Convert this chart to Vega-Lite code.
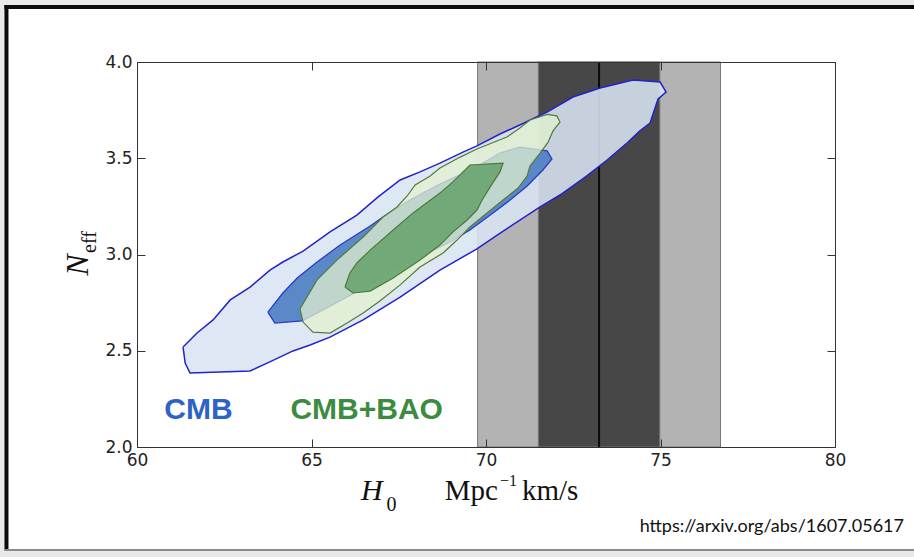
{
  "$schema": "https://vega.github.io/schema/vega-lite/v6.json",
  "width": 698,
  "height": 385,
  "autosize": {"type": "none"},
  "padding": {"left": 137, "top": 62, "right": 79, "bottom": 110},
  "background": "#e8e8e8",
  "config": {
    "view": {"stroke": null},
    "axis": {
      "grid": false,
      "domainColor": "#333333",
      "domainWidth": 1,
      "tickColor": "#333333",
      "tickSize": -8,
      "tickWidth": 1,
      "labelFont": "DejaVu Sans",
      "labelFontSize": 17,
      "labelColor": "#222222",
      "labelFlush": false,
      "labelOverlap": false,
      "labelBound": false,
      "title": null
    }
  },
  "datasets": {
    "bands": [
      {"level": "2 sigma", "lo": 69.76, "hi": 76.72},
      {"level": "1 sigma", "lo": 71.50, "hi": 74.98}
    ],
    "local": [{"H0": 73.24}],
    "cmb95": [
      {"H0": 61.32, "Neff": 2.519}, {"H0": 61.72, "Neff": 2.592}, {"H0": 62.18, "Neff": 2.660},
      {"H0": 62.67, "Neff": 2.764}, {"H0": 63.24, "Neff": 2.831}, {"H0": 63.81, "Neff": 2.919},
      {"H0": 64.18, "Neff": 2.961}, {"H0": 64.76, "Neff": 3.018}, {"H0": 65.53, "Neff": 3.117},
      {"H0": 66.30, "Neff": 3.205}, {"H0": 66.91, "Neff": 3.299}, {"H0": 67.54, "Neff": 3.387},
      {"H0": 68.11, "Neff": 3.429}, {"H0": 68.68, "Neff": 3.475}, {"H0": 69.34, "Neff": 3.532},
      {"H0": 69.74, "Neff": 3.564}, {"H0": 70.40, "Neff": 3.626}, {"H0": 70.97, "Neff": 3.673},
      {"H0": 71.75, "Neff": 3.740}, {"H0": 72.49, "Neff": 3.818}, {"H0": 73.27, "Neff": 3.865},
      {"H0": 74.21, "Neff": 3.906}, {"H0": 74.99, "Neff": 3.896}, {"H0": 75.16, "Neff": 3.844},
      {"H0": 74.93, "Neff": 3.808}, {"H0": 74.70, "Neff": 3.683}, {"H0": 74.41, "Neff": 3.642},
      {"H0": 74.04, "Neff": 3.579}, {"H0": 73.47, "Neff": 3.491}, {"H0": 72.89, "Neff": 3.408},
      {"H0": 72.12, "Neff": 3.309}, {"H0": 71.55, "Neff": 3.247}, {"H0": 70.97, "Neff": 3.179},
      {"H0": 70.32, "Neff": 3.101}, {"H0": 69.74, "Neff": 3.029}, {"H0": 68.68, "Neff": 2.919},
      {"H0": 67.54, "Neff": 2.779}, {"H0": 66.48, "Neff": 2.660}, {"H0": 65.53, "Neff": 2.571},
      {"H0": 64.96, "Neff": 2.530}, {"H0": 64.47, "Neff": 2.499}, {"H0": 63.73, "Neff": 2.436},
      {"H0": 63.24, "Neff": 2.395}, {"H0": 61.52, "Neff": 2.384}, {"H0": 61.38, "Neff": 2.436},
      {"H0": 61.32, "Neff": 2.519}
    ],
    "cmb68": [
      {"H0": 63.75, "Neff": 2.701}, {"H0": 64.18, "Neff": 2.800}, {"H0": 64.59, "Neff": 2.878},
      {"H0": 65.16, "Neff": 2.961}, {"H0": 65.82, "Neff": 3.049}, {"H0": 66.68, "Neff": 3.148},
      {"H0": 67.05, "Neff": 3.195}, {"H0": 67.82, "Neff": 3.283}, {"H0": 68.68, "Neff": 3.366},
      {"H0": 69.05, "Neff": 3.397}, {"H0": 69.74, "Neff": 3.455}, {"H0": 70.40, "Neff": 3.527},
      {"H0": 70.97, "Neff": 3.558}, {"H0": 71.75, "Neff": 3.538}, {"H0": 71.89, "Neff": 3.496},
      {"H0": 71.63, "Neff": 3.439}, {"H0": 71.18, "Neff": 3.356}, {"H0": 70.69, "Neff": 3.283},
      {"H0": 70.20, "Neff": 3.216}, {"H0": 69.54, "Neff": 3.127}, {"H0": 68.97, "Neff": 3.065},
      {"H0": 68.11, "Neff": 2.987}, {"H0": 67.54, "Neff": 2.935}, {"H0": 66.39, "Neff": 2.816},
      {"H0": 65.53, "Neff": 2.732}, {"H0": 64.73, "Neff": 2.655}, {"H0": 63.95, "Neff": 2.644},
      {"H0": 63.75, "Neff": 2.701}
    ],
    "bao95": [
      {"H0": 64.67, "Neff": 2.717}, {"H0": 65.16, "Neff": 2.868}, {"H0": 65.73, "Neff": 2.971},
      {"H0": 66.48, "Neff": 3.091}, {"H0": 67.05, "Neff": 3.195}, {"H0": 67.45, "Neff": 3.247},
      {"H0": 67.74, "Neff": 3.304}, {"H0": 67.97, "Neff": 3.361}, {"H0": 68.40, "Neff": 3.408},
      {"H0": 68.68, "Neff": 3.449}, {"H0": 69.26, "Neff": 3.506}, {"H0": 69.74, "Neff": 3.548},
      {"H0": 70.60, "Neff": 3.610}, {"H0": 70.97, "Neff": 3.657}, {"H0": 71.26, "Neff": 3.699},
      {"H0": 71.75, "Neff": 3.728}, {"H0": 72.03, "Neff": 3.720}, {"H0": 72.12, "Neff": 3.688},
      {"H0": 71.92, "Neff": 3.642}, {"H0": 71.78, "Neff": 3.584}, {"H0": 71.55, "Neff": 3.527},
      {"H0": 71.26, "Neff": 3.460}, {"H0": 71.18, "Neff": 3.408}, {"H0": 70.92, "Neff": 3.345},
      {"H0": 70.49, "Neff": 3.283}, {"H0": 70.03, "Neff": 3.216}, {"H0": 69.54, "Neff": 3.143},
      {"H0": 69.17, "Neff": 3.075}, {"H0": 68.77, "Neff": 3.008}, {"H0": 68.11, "Neff": 2.935},
      {"H0": 67.54, "Neff": 2.842}, {"H0": 66.96, "Neff": 2.758}, {"H0": 66.48, "Neff": 2.696},
      {"H0": 66.02, "Neff": 2.644}, {"H0": 65.53, "Neff": 2.592}, {"H0": 65.04, "Neff": 2.597},
      {"H0": 64.76, "Neff": 2.649}, {"H0": 64.67, "Neff": 2.717}
    ],
    "bao68": [
      {"H0": 65.96, "Neff": 2.831}, {"H0": 66.10, "Neff": 2.904}, {"H0": 66.30, "Neff": 2.956},
      {"H0": 66.68, "Neff": 3.023}, {"H0": 67.34, "Neff": 3.127}, {"H0": 67.91, "Neff": 3.216},
      {"H0": 68.68, "Neff": 3.319}, {"H0": 69.05, "Neff": 3.377}, {"H0": 69.54, "Neff": 3.465},
      {"H0": 70.49, "Neff": 3.475}, {"H0": 70.40, "Neff": 3.429}, {"H0": 70.12, "Neff": 3.351},
      {"H0": 69.89, "Neff": 3.283}, {"H0": 69.74, "Neff": 3.231}, {"H0": 69.46, "Neff": 3.179},
      {"H0": 69.05, "Neff": 3.117}, {"H0": 68.68, "Neff": 3.049}, {"H0": 68.11, "Neff": 2.971},
      {"H0": 67.34, "Neff": 2.878}, {"H0": 66.68, "Neff": 2.810}, {"H0": 66.19, "Neff": 2.800},
      {"H0": 65.96, "Neff": 2.831}
    ]
  },
  "layer": [
    {
      "data": {"values": [{}]},
      "mark": {"type": "rect", "fill": "#ffffff", "clip": false},
      "encoding": {
        "x": {"datum": 56.26, "type": "quantitative", "scale": {"domain": [60, 80], "nice": false, "zero": false}, "axis": null},
        "x2": {"datum": 82.5},
        "y": {"datum": 4.2857, "type": "quantitative", "scale": {"domain": [2, 4], "nice": false, "zero": false}, "axis": null},
        "y2": {"datum": 1.4649}
      }
    },
    {
      "data": {"name": "bands"},
      "mark": {"type": "rect", "stroke": "#777777", "strokeWidth": 1},
      "encoding": {
        "x": {"field": "lo", "type": "quantitative", "scale": {"domain": [60, 80], "nice": false, "zero": false}, "axis": null},
        "x2": {"field": "hi"},
        "color": {"field": "level", "type": "nominal", "scale": {"domain": ["2 sigma", "1 sigma"], "range": ["#b3b3b3", "#474747"]}, "legend": null}
      }
    },
    {
      "data": {"name": "local"},
      "mark": {"type": "rule", "color": "#0a0a0a", "strokeWidth": 2},
      "encoding": {
        "x": {"field": "H0", "type": "quantitative", "scale": {"domain": [60, 80], "nice": false, "zero": false}, "axis": null}
      }
    },
    {
      "data": {"name": "cmb95"},
      "mark": {"type": "line", "fill": "#d9e5f2", "fillOpacity": 0.88, "stroke": "#2323c8", "strokeWidth": 1.5, "clip": true},
      "encoding": {
        "x": {"field": "H0", "type": "quantitative", "scale": {"domain": [60, 80], "nice": false, "zero": false},
              "axis": {"orient": "bottom", "values": [60, 65, 70, 75, 80], "format": "d", "labelPadding": 13, "zindex": 2}},
        "y": {"field": "Neff", "type": "quantitative", "scale": {"domain": [2, 4], "nice": false, "zero": false},
              "axis": {"orient": "left", "values": [2, 2.5, 3, 3.5, 4], "format": ".1f", "labelPadding": 13, "zindex": 2}},
        "order": {"value": null}
      }
    },
    {
      "data": {"name": "cmb68"},
      "mark": {"type": "line", "fill": "#4f7fc2", "fillOpacity": 0.92, "stroke": "#2a3cc8", "strokeWidth": 1.3, "clip": true},
      "encoding": {
        "x": {"field": "H0", "type": "quantitative", "scale": {"domain": [60, 80], "nice": false, "zero": false},
              "axis": {"orient": "top", "values": [60, 65, 70, 75, 80], "labels": false, "zindex": 2}},
        "y": {"field": "Neff", "type": "quantitative", "scale": {"domain": [2, 4], "nice": false, "zero": false},
              "axis": {"orient": "right", "values": [2, 2.5, 3, 3.5, 4], "labels": false, "zindex": 2}},
        "order": {"value": null}
      }
    },
    {
      "data": {"name": "bao95"},
      "mark": {"type": "line", "fill": "#e2f0cf", "fillOpacity": 0.75, "stroke": "#557a3a", "strokeWidth": 1.2, "clip": true},
      "encoding": {
        "x": {"field": "H0", "type": "quantitative", "scale": {"domain": [60, 80], "nice": false, "zero": false}, "axis": null},
        "y": {"field": "Neff", "type": "quantitative", "scale": {"domain": [2, 4], "nice": false, "zero": false}, "axis": null},
        "order": {"value": null}
      }
    },
    {
      "data": {"name": "bao68"},
      "mark": {"type": "line", "fill": "#6ca672", "fillOpacity": 0.93, "stroke": "#4d7a3b", "strokeWidth": 1.2, "clip": true},
      "encoding": {
        "x": {"field": "H0", "type": "quantitative", "scale": {"domain": [60, 80], "nice": false, "zero": false}, "axis": null},
        "y": {"field": "Neff", "type": "quantitative", "scale": {"domain": [2, 4], "nice": false, "zero": false}, "axis": null},
        "order": {"value": null}
      }
    },
    {
      "data": {"values": [{}]},
      "mark": {"type": "text", "text": "CMB", "font": "Liberation Sans", "fontWeight": "bold", "fontSize": 30, "color": "#2e63c4", "align": "center", "baseline": "middle"},
      "encoding": {
        "x": {"datum": 61.76, "type": "quantitative", "scale": {"domain": [60, 80], "nice": false, "zero": false}, "axis": null},
        "y": {"datum": 2.192, "type": "quantitative", "scale": {"domain": [2, 4], "nice": false, "zero": false}, "axis": null}
      }
    },
    {
      "data": {"values": [{}]},
      "mark": {"type": "text", "text": "CMB+BAO", "font": "Liberation Sans", "fontWeight": "bold", "fontSize": 30, "color": "#3b8c40", "align": "center", "baseline": "middle"},
      "encoding": {
        "x": {"datum": 66.58, "type": "quantitative", "scale": {"domain": [60, 80], "nice": false, "zero": false}, "axis": null},
        "y": {"datum": 2.192, "type": "quantitative", "scale": {"domain": [2, 4], "nice": false, "zero": false}, "axis": null}
      }
    },
    {
      "data": {"values": [{}]},
      "mark": {"type": "text", "text": "H", "font": "Liberation Serif", "fontStyle": "italic", "fontSize": 30, "color": "#111111", "align": "left", "baseline": "alphabetic", "clip": false},
      "encoding": {
        "x": {"datum": 66.42, "type": "quantitative", "scale": {"domain": [60, 80], "nice": false, "zero": false}, "axis": null},
        "y": {"datum": 1.7247, "type": "quantitative", "scale": {"domain": [2, 4], "nice": false, "zero": false}, "axis": null}
      }
    },
    {
      "data": {"values": [{}]},
      "mark": {"type": "text", "text": "0", "font": "Liberation Serif", "fontSize": 20, "color": "#111111", "align": "left", "baseline": "alphabetic", "clip": false},
      "encoding": {
        "x": {"datum": 67.15, "type": "quantitative", "scale": {"domain": [60, 80], "nice": false, "zero": false}, "axis": null},
        "y": {"datum": 1.6675, "type": "quantitative", "scale": {"domain": [2, 4], "nice": false, "zero": false}, "axis": null}
      }
    },
    {
      "data": {"values": [{}]},
      "mark": {"type": "text", "text": "Mpc", "font": "Liberation Serif", "fontSize": 29, "color": "#111111", "align": "left", "baseline": "alphabetic", "clip": false},
      "encoding": {
        "x": {"datum": 68.82, "type": "quantitative", "scale": {"domain": [60, 80], "nice": false, "zero": false}, "axis": null},
        "y": {"datum": 1.7247, "type": "quantitative", "scale": {"domain": [2, 4], "nice": false, "zero": false}, "axis": null}
      }
    },
    {
      "data": {"values": [{}]},
      "mark": {"type": "text", "text": "−1", "font": "Liberation Serif", "fontSize": 16, "color": "#111111", "align": "left", "baseline": "alphabetic", "clip": false},
      "encoding": {
        "x": {"datum": 70.40, "type": "quantitative", "scale": {"domain": [60, 80], "nice": false, "zero": false}, "axis": null},
        "y": {"datum": 1.795, "type": "quantitative", "scale": {"domain": [2, 4], "nice": false, "zero": false}, "axis": null}
      }
    },
    {
      "data": {"values": [{}]},
      "mark": {"type": "text", "text": "km/s", "font": "Liberation Serif", "fontSize": 29, "color": "#111111", "align": "left", "baseline": "alphabetic", "clip": false},
      "encoding": {
        "x": {"datum": 71.03, "type": "quantitative", "scale": {"domain": [60, 80], "nice": false, "zero": false}, "axis": null},
        "y": {"datum": 1.7247, "type": "quantitative", "scale": {"domain": [2, 4], "nice": false, "zero": false}, "axis": null}
      }
    },
    {
      "data": {"values": [{}]},
      "mark": {"type": "text", "text": "N", "font": "Liberation Serif", "fontStyle": "italic", "fontSize": 32, "color": "#111111", "align": "center", "baseline": "middle", "angle": 270, "clip": false},
      "encoding": {
        "x": {"datum": 58.31, "type": "quantitative", "scale": {"domain": [60, 80], "nice": false, "zero": false}, "axis": null},
        "y": {"datum": 2.945, "type": "quantitative", "scale": {"domain": [2, 4], "nice": false, "zero": false}, "axis": null}
      }
    },
    {
      "data": {"values": [{}]},
      "mark": {"type": "text", "text": "eff", "font": "Liberation Serif", "fontSize": 20, "color": "#111111", "align": "center", "baseline": "middle", "angle": 270, "clip": false},
      "encoding": {
        "x": {"datum": 58.65, "type": "quantitative", "scale": {"domain": [60, 80], "nice": false, "zero": false}, "axis": null},
        "y": {"datum": 3.065, "type": "quantitative", "scale": {"domain": [2, 4], "nice": false, "zero": false}, "axis": null}
      }
    },
    {
      "data": {"values": [{}]},
      "mark": {"type": "text", "text": "https://arxiv.org/abs/1607.05617", "font": "Lato", "fontSize": 18, "color": "#111111", "align": "right", "baseline": "middle", "clip": false},
      "encoding": {
        "x": {"datum": 81.977, "type": "quantitative", "scale": {"domain": [60, 80], "nice": false, "zero": false}, "axis": null},
        "y": {"datum": 1.584, "type": "quantitative", "scale": {"domain": [2, 4], "nice": false, "zero": false}, "axis": null}
      }
    },
    {
      "data": {"values": [{}]},
      "mark": {"type": "rule", "color": "#0a0a0a", "strokeWidth": 4, "clip": false},
      "encoding": {
        "x": {"datum": 56.2, "type": "quantitative", "scale": {"domain": [60, 80], "nice": false, "zero": false}, "axis": null},
        "x2": {"datum": 82.5},
        "y": {"datum": 4.2857, "type": "quantitative", "scale": {"domain": [2, 4], "nice": false, "zero": false}, "axis": null}
      }
    },
    {
      "data": {"values": [{}]},
      "mark": {"type": "rule", "color": "#0a0a0a", "strokeWidth": 4, "clip": false},
      "encoding": {
        "x": {"datum": 56.26, "type": "quantitative", "scale": {"domain": [60, 80], "nice": false, "zero": false}, "axis": null},
        "y": {"datum": 4.296, "type": "quantitative", "scale": {"domain": [2, 4], "nice": false, "zero": false}, "axis": null},
        "y2": {"datum": 1.4649}
      }
    },
    {
      "data": {"values": [{}]},
      "mark": {"type": "rule", "color": "#8a8a8a", "strokeWidth": 2, "clip": false},
      "encoding": {
        "x": {"datum": 56.2, "type": "quantitative", "scale": {"domain": [60, 80], "nice": false, "zero": false}, "axis": null},
        "x2": {"datum": 82.5},
        "y": {"datum": 1.4649, "type": "quantitative", "scale": {"domain": [2, 4], "nice": false, "zero": false}, "axis": null}
      }
    }
  ],
  "resolve": {"axis": {"x": "independent", "y": "independent"}}
}
